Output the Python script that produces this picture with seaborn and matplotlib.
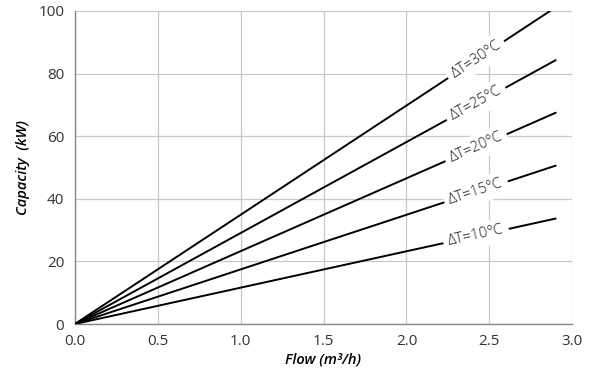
import numpy as np
import pandas as pd
import matplotlib
matplotlib.use("Agg")
import matplotlib.pyplot as plt
import seaborn as sns

# data
delta_t = [10, 15, 20, 25, 30]
flow_end = 2.9
capacity_end = [33.7, 50.6, 67.5, 84.3, 101.2]
labels = ["ΔT=10°C", "ΔT=15°C", "ΔT=20°C", "ΔT=25°C", "ΔT=30°C"]
x_ticks = [0.0, 0.5, 1.0, 1.5, 2.0, 2.5, 3.0]
y_ticks = [0, 20, 40, 60, 80, 100]

rows = []
for dt, cap in zip(delta_t, capacity_end):
    rows.append({"flow": 0.0, "capacity": 0.0, "dt": dt})
    rows.append({"flow": flow_end, "capacity": cap, "dt": dt})
df = pd.DataFrame(rows)

sns.set_style("white")
plt.rcParams["font.family"] = ["Open Sans", "DejaVu Sans"]

fig = plt.figure(figsize=(5.98, 3.79), dpi=100)
ax = fig.add_axes([0.125, 0.145, 0.832, 0.826])

sns.lineplot(data=df, x="flow", y="capacity", units="dt", estimator=None,
             color="black", linewidth=1.4, ax=ax, legend=False, zorder=3)

# inline labels that break the lines
label_x = 2.42
for cap, lab in zip(capacity_end, labels):
    slope = cap / flow_end
    ang = np.degrees(np.arctan(slope))
    ax.text(label_x, slope * label_x, lab, rotation=ang, transform_rotates_text=True,
            rotation_mode="anchor", ha="center", va="center", fontsize=10.5, color="#1a1a1a",
            fontweight="light", zorder=4,
            bbox=dict(boxstyle="square,pad=0.35", fc="white", ec="none"))

ax.set_xlim(0, 3.0)
ax.set_ylim(0, 100)
ax.set_xticks(x_ticks)
ax.set_yticks(y_ticks)
ax.set_xticklabels([f"{v:.1f}" for v in x_ticks])
ax.grid(True, color="#c8c8c8", linewidth=0.9, zorder=0)
ax.set_axisbelow(True)
for side in ["top", "right"]:
    ax.spines[side].set_visible(False)
for side in ["left", "bottom"]:
    ax.spines[side].set_color("#888888")
    ax.spines[side].set_linewidth(1.0)
ax.tick_params(axis="both", labelsize=11, colors="#333333", length=4, color="#888888")

ax.set_xlabel("Flow (m³/h)", fontsize=10.5, style="italic", fontweight="semibold",
              color="black", labelpad=2)
ax.set_ylabel("Capacity  (kW)", fontsize=10.5, style="italic", fontweight="semibold",
              color="black", labelpad=6)

fig.savefig("out.png", dpi=100)
